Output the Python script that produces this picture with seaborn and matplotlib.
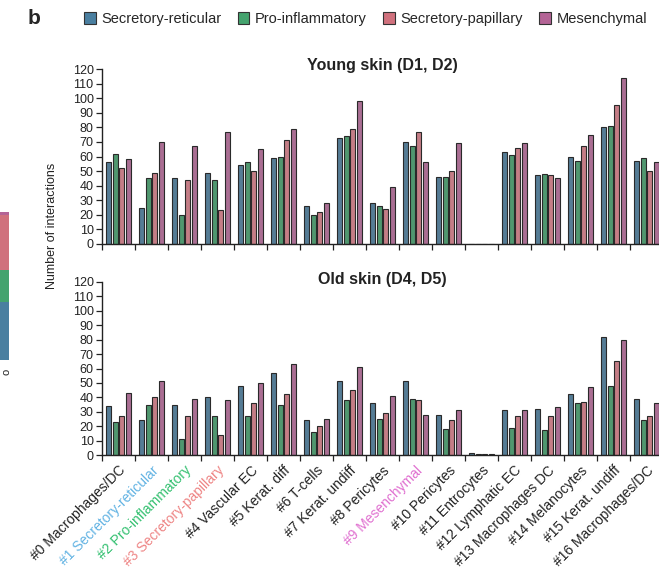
import numpy as np
import pandas as pd
import seaborn as sns
import matplotlib.pyplot as plt
from matplotlib.patches import Patch

# cluster names on the x axis
clusters = ["#0 Macrophages/DC", "#1 Secretory-reticular", "#2 Pro-inflammatory",
            "#3 Secretory-papillary", "#4 Vascular EC", "#5 Kerat. diff", "#6 T-cells",
            "#7 Kerat. undiff", "#8 Pericytes", "#9 Mesenchymal", "#10 Pericytes",
            "#11 Entrocytes", "#12 Lymphatic EC", "#13 Macrophages DC",
            "#14 Melanocytes", "#15 Kerat. undiff", "#16 Macrophages/DC"]
populations = ["Secretory-reticular", "Pro-inflammatory", "Secretory-papillary", "Mesenchymal"]

# young skin (D1, D2)
young_reticular = [56, 25, 45, 49, 54, 59, 26, 73, 28, 70, 46, 0, 63, 47, 60, 80, 57]
young_proinflam = [62, 45, 20, 44, 56, 60, 20, 74, 26, 67, 46, 0, 61, 48, 57, 81, 59]
young_papillary = [52, 49, 44, 23, 50, 71, 22, 79, 24, 77, 50, 0, 66, 47, 67, 95, 50]
young_mesenchymal = [58, 70, 67, 77, 65, 79, 28, 98, 39, 56, 69, 0, 69, 45, 75, 114, 56]

# old skin (D4, D5)
old_reticular = [34, 24, 35, 40, 48, 57, 24, 51, 36, 51, 28, 1.5, 31, 32, 42, 82, 39]
old_proinflam = [23, 35, 11, 27, 27, 35, 16, 38, 25, 39, 18, 1, 19, 17, 36, 48, 24]
old_papillary = [27, 40, 27, 14, 36, 42, 20, 45, 29, 38, 24, 0.5, 27, 27, 37, 65, 27]
old_mesenchymal = [43, 51, 39, 38, 50, 63, 25, 61, 41, 28, 31, 0.5, 31, 33, 47, 80, 36]

# cropped stacked bar from the neighbouring panel (bottom to top)
strip_values = [0.39, 0.22, 0.37, 0.02]

palette = ["#4a7fa0", "#44a36e", "#d0717d", "#b46496"]
label_colors = {1: "#62b3e3", 2: "#33c070", 3: "#ee8585", 9: "#e070d0"}


def make_frame(series):
    rows = []
    for pop, vals in zip(populations, series):
        for cl, v in zip(clusters, vals):
            rows.append({"cluster": cl, "population": pop, "interactions": v})
    return pd.DataFrame(rows)


young = make_frame([young_reticular, young_proinflam, young_papillary, young_mesenchymal])
old = make_frame([old_reticular, old_proinflam, old_papillary, old_mesenchymal])

sns.set_theme(style="ticks")
plt.rcParams["font.family"] = ["Liberation Sans", "DejaVu Sans"]

fig = plt.figure(figsize=(6.59, 5.8), dpi=100)
W, H = 659, 580
ax_young = fig.add_axes([102 / W, 1 - 244 / H, 561 / W, 175 / H])
ax_old = fig.add_axes([102 / W, 1 - 455 / H, 561 / W, 173 / H])

for ax, df, title, ty in [(ax_young, young, "Young skin (D1, D2)", 1.02),
                          (ax_old, old, "Old skin (D4, D5)", 1.012)]:
    sns.barplot(data=df, x="cluster", y="interactions", hue="population",
                palette=palette, width=0.8, gap=0.2, edgecolor="#2a2a2a",
                linewidth=0.8, errorbar=None, legend=False, ax=ax)
    ax.set_xlim(-0.5, 16.5)
    ax.set_ylim(0, 120)
    ax.set_yticks(range(0, 121, 10))
    ax.set_xticks(np.arange(-0.5, 17, 1))
    ax.set_xticklabels([])
    ax.set_xlabel("")
    ax.set_ylabel("")
    sns.despine(ax=ax)
    for s in ["left", "bottom"]:
        ax.spines[s].set_linewidth(1.0)
        ax.spines[s].set_color("#222222")
    ax.tick_params(axis="both", length=4, width=0.9, colors="#222222",
                   labelsize=9, pad=2)
    ax.text(0.5, ty, title, transform=ax.transAxes, ha="center", va="center",
            fontsize=11.5, fontweight="bold", color="#222222")

# category labels on the lower panel, centred under each group
ax_old.set_xticks(np.arange(17), minor=True)
ax_old.set_xticklabels(clusters, minor=True, rotation=45, ha="right",
                       rotation_mode="anchor", fontsize=10)
ax_old.tick_params(axis="x", which="minor", length=0, pad=6)
for i, lab in enumerate(ax_old.get_xticklabels(minor=True)):
    lab.set_color(label_colors.get(i, "#222222"))

fig.text(52 / W, 1 - 226 / H, "Number of interactions", rotation=90,
         ha="center", va="center", fontsize=9, color="#222222")
fig.text(28 / W, 1 - 18 / H, "b", fontsize=15, fontweight="bold", va="center")

handles = [Patch(facecolor=c, edgecolor="#333333", linewidth=0.8, label=p)
           for c, p in zip(palette, populations)]
fig.legend(handles=handles, loc="center left", bbox_to_anchor=(84 / W, 1 - 19 / H),
           ncol=4, frameon=False, fontsize=10.5, handlelength=0.8, handleheight=0.8,
           handletextpad=0.4, columnspacing=1.1, borderpad=0, borderaxespad=0)

# sliver of the previous panel at the left edge
ax_strip = fig.add_axes([0, 1 - 360 / H, 9 / W, 148 / H])
bottom = 0
for v, c in zip(strip_values, palette):
    ax_strip.bar([0], [v], bottom=bottom, width=1.0, color=c, edgecolor="none")
    bottom += v
ax_strip.set_xlim(-0.3, 0.5)
ax_strip.set_ylim(0, 1)
ax_strip.axis("off")
fig.text(2 / W, 1 - 372 / H, "o", rotation=90, fontsize=8, va="center", color="#222222")

fig.savefig("out.png", dpi=100)
